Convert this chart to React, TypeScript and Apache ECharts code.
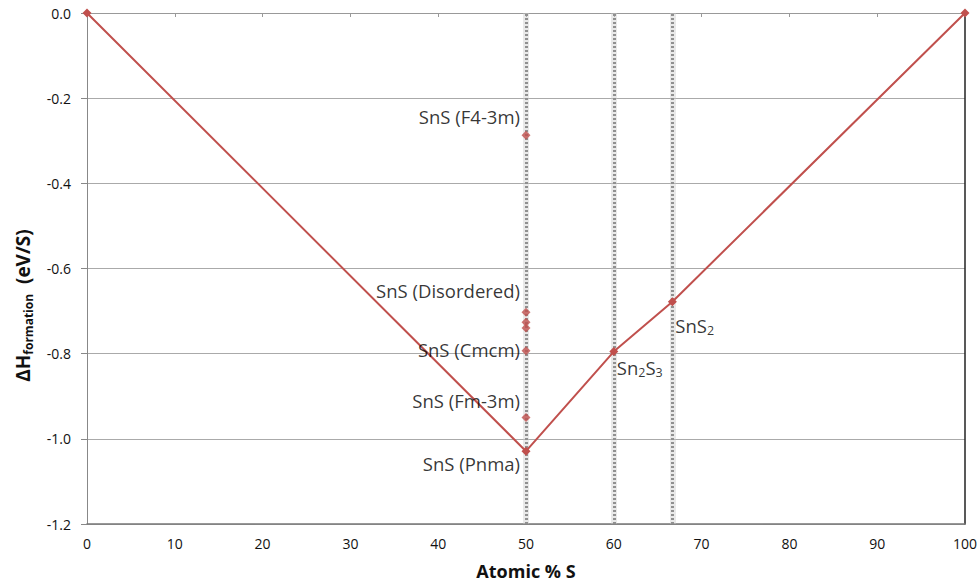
import React, { useEffect, useRef } from "react";
import * as echarts from "echarts";

// Convex hull (formation energy vs composition)
const hullX = [0, 50, 60, 66.67, 100];
const hullY = [0, -1.029, -0.795, -0.678, 0];

// SnS polymorphs at 50 % S
const polyX = [50, 50, 50, 50, 50, 50];
const polyY = [-0.287, -0.703, -0.726, -0.74, -0.793, -0.95];

// Vertical phase composition lines
const phaseLines = [50, 60, 66.67];

// Annotation labels: text, anchor x, anchor y, side
const labelText = [
  "SnS (F4-3m)",
  "SnS (Disordered)",
  "SnS (Cmcm)",
  "SnS (Fm-3m)",
  "SnS (Pnma)",
  "Sn{sub|2}S{sub|3}",
  "SnS{sub|2}",
];
const labelX = [50, 50, 50, 50, 50, 60, 66.67];
const labelY = [-0.244, -0.651, -0.791, -0.909, -1.059, -0.833, -0.735];
const labelSide = ["left", "left", "left", "left", "left", "right", "right"];

const yTicks = [0, -0.2, -0.4, -0.6, -0.8, -1.0, -1.2];

const FONT = "'Open Sans', 'Noto Sans', sans-serif";
const RED = "#c0504d";

export default function App() {
  const ref = useRef<HTMLDivElement>(null);
  useEffect(() => {
    if (!ref.current) return;
    const chart = echarts.init(ref.current, undefined, { renderer: "svg" });
    const rich = {
      sub: { fontSize: 12.5, fontFamily: FONT, color: "#000", padding: [10, 0, 0, 0] },
    };
    chart.setOption({
      animation: false,
      textStyle: { fontFamily: FONT },
      grid: { left: 87, right: 14, top: 13, bottom: 62, outerBoundsMode: "none", containLabel: false },
      xAxis: [
        {
          type: "value",
          position: "bottom",
          min: 0,
          max: 100,
          interval: 10,
          axisLine: { show: true, onZero: false, lineStyle: { color: "#777", width: 1.5 } },
          axisTick: { show: false },
          splitLine: { show: false },
          axisLabel: { fontSize: 14, color: "#111", margin: 12, fontFamily: FONT },
          name: "Atomic % S",
          nameLocation: "middle",
          nameGap: 38,
          nameTextStyle: { fontSize: 18, fontWeight: "bold", color: "#111", fontFamily: FONT },
        },
        {
          type: "value",
          position: "top",
          min: 0,
          max: 100,
          interval: 10,
          axisLine: { show: true, onZero: false, lineStyle: { color: "#999" } },
          axisTick: { show: true, inside: true, length: 4, lineStyle: { color: "#999" } },
          splitLine: { show: false },
          axisLabel: { show: false },
        },
      ],
      yAxis: [
        {
          type: "value",
          position: "left",
          min: -1.2,
          max: 0,
          interval: 0.2,
          axisLine: { show: true, onZero: false, lineStyle: { color: "#888" } },
          axisTick: { show: true, length: 6, lineStyle: { color: "#888" } },
          splitLine: { show: true, lineStyle: { color: "#aaa", width: 1 } },
          axisLabel: {
            fontSize: 14,
            color: "#111",
            margin: 16,
            fontFamily: FONT,
            formatter: (v: number) => {
              const m = yTicks.find((t) => Math.abs(t - v) < 1e-6);
              return (m !== undefined ? m : v).toFixed(1);
            },
          },
          name: "ΔH{sub|formation}  (eV/S)",
          nameLocation: "middle",
          nameRotate: 90,
          nameGap: 53,
          nameTextStyle: {
            fontSize: 19,
            fontWeight: "bold",
            color: "#111",
            fontFamily: FONT,
            padding: [0, 74, 0, 0],
            rich: {
              sub: { fontSize: 12, fontWeight: "bold", color: "#111", fontFamily: FONT, padding: [10, 0, 0, 0] },
            },
          },
        },
        {
          type: "value",
          position: "right",
          min: -1.2,
          max: 0,
          interval: 0.2,
          axisLine: { show: true, onZero: false, lineStyle: { color: "#222", width: 1.5 } },
          axisTick: { show: false },
          splitLine: { show: false },
          axisLabel: { show: false },
        },
      ],
      series: [
        {
          type: "line",
          data: [],
          markLine: {
            silent: true,
            symbol: "none",
            label: { show: false },
            lineStyle: { color: "rgba(200,200,200,0.4)", width: 6, type: "solid" },
            data: phaseLines.map((x) => ({ xAxis: x })),
          },
        },
        {
          type: "line",
          data: [],
          markLine: {
            silent: true,
            symbol: "none",
            label: { show: false },
            lineStyle: { color: "#909090", width: 3, type: [2, 2] },
            data: phaseLines.map((x) => ({ xAxis: x })),
          },
        },
        {
          type: "line",
          data: hullX.map((x, i) => [x, hullY[i]]),
          lineStyle: { color: RED, width: 2 },
          itemStyle: { color: RED },
          symbol: "diamond",
          symbolSize: 9,
          z: 5,
        },
        {
          type: "scatter",
          data: polyX.map((x, i) => [x, polyY[i]]),
          itemStyle: { color: RED },
          symbol: "diamond",
          symbolSize: 9,
          z: 5,
        },
        {
          type: "scatter",
          symbolSize: 0,
          silent: true,
          z: 6,
          data: labelX.map((x, i) => ({
            value: [x, labelY[i]],
            label: {
              show: true,
              position: labelSide[i],
              distance: labelSide[i] === "left" ? 6 : 3,
              formatter: labelText[i],
              fontSize: 18.5,
              color: "#000",
              fontFamily: FONT,
              rich,
            },
          })),
        },
      ],
    });
    return () => chart.dispose();
  }, []);
  return (
    <div
      ref={ref}
      style={{ position: "absolute", left: 0, top: 0, width: 979, height: 586 }}
    />
  );
}
